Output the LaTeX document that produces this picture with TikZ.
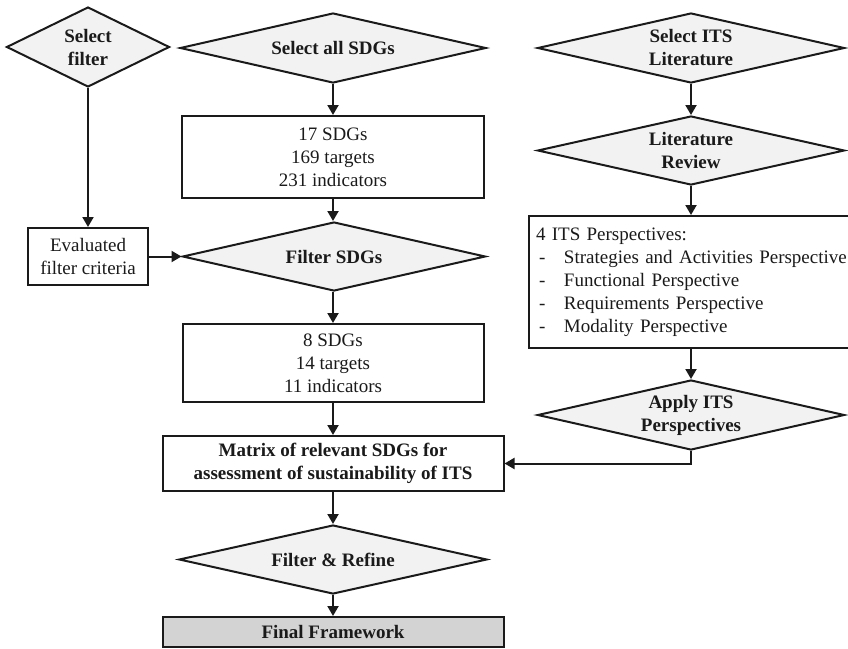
\documentclass[tikz,border=0pt]{standalone}
\usepackage{fontspec}
\setmainfont{Liberation Serif}
\usetikzlibrary{shapes.geometric}
\usetikzlibrary{arrows.meta}
\definecolor{dfill}{RGB}{242,242,242}
\definecolor{ffill}{RGB}{211,211,211}
\definecolor{ink}{RGB}{26,26,26}

\begin{document}
\begin{tikzpicture}[x=1pt,y=-1pt,line width=2pt,draw=ink,
	decide/.style={diamond,draw=ink,fill=dfill,aspect=4,font=\fontsize{19}{23}\selectfont\bfseries},
	box/.style={rectangle,draw=ink,fill=white},
	flow/.style={-{Triangle[length=10pt 0 0,width=11pt 0 0]}}]
			\tikzstyle{every node}+=[inner sep=0pt,align=center,text=ink,font=\fontsize{19}{23}\selectfont]
			\useasboundingbox (0,0) rectangle (848,648);
			\clip (0,0) rectangle (848,648);
			\node [decide,aspect=2,minimum width=163pt,minimum height=80pt] (selfilter) at (88,47) {Select\\filter};
			\node [decide,minimum width=306pt,minimum height=70pt] (selall) at (333,48) {Select all SDGs};
			\node [box,minimum width=302pt,minimum height=82pt] (sdg17) at (333,157) {17 SDGs\\169 targets\\231 indicators};
			\node [box,minimum width=120pt,minimum height=57pt] (evalc) at (88,256.5) {Evaluated\\filter criteria};
			\node [decide,minimum width=303pt,minimum height=69pt] (filtsdg) at (334,256.5) {Filter SDGs};
			\node [box,minimum width=301pt,minimum height=78pt] (sdg8) at (333,363) {8 SDGs\\14 targets\\11 indicators};
			\node [box,font=\fontsize{19}{23}\selectfont\bfseries,minimum width=341pt,minimum height=55pt] (matrix) at (333,463.5) {Matrix of relevant SDGs for\\assessment of sustainability of ITS};
			\node [decide,minimum width=308pt,minimum height=69pt] (refine) at (333,559.5) {Filter \& Refine};
			\node [box,fill=ffill,font=\fontsize{19}{23}\selectfont\bfseries,minimum width=341pt,minimum height=30pt] (final) at (333,632) {Final Framework};
			\node [decide,minimum width=307pt,minimum height=70pt] (sellit) at (691,48) {Select ITS\\Literature};
			\node [decide,minimum width=307pt,minimum height=69pt] (litrev) at (691,150.5) {Literature\\Review};
			\node [box,anchor=west,align=left,text width=318pt,inner xsep=7pt,minimum height=132pt] (persp) at (528,282) {4 ITS Perspectives:\\
				\hspace*{3pt}\makebox[25pt][l]{-}Strategies and Activities Perspective\\
				\hspace*{3pt}\makebox[25pt][l]{-}Functional Perspective\\
				\hspace*{3pt}\makebox[25pt][l]{-}Requirements Perspective\\
				\hspace*{3pt}\makebox[25pt][l]{-}Modality Perspective};
			\node [decide,minimum width=307pt,minimum height=70pt] (apply) at (691,415) {Apply ITS\\Perspectives};
			\draw [flow] (selfilter.south) -- (evalc.north);
			\draw [flow] (selall.south) -- (sdg17.north);
			\draw [flow] (sdg17.south) -- (sdg17.south |- filtsdg.north);
			\draw [flow] (evalc.east) -- (filtsdg.west);
			\draw [flow] (sdg8.north |- filtsdg.south) -- (sdg8.north);
			\draw [flow] (sdg8.south) -- (matrix.north);
			\draw [flow] (matrix.south) -- (refine.north);
			\draw [flow] (refine.south) -- (final.north);
			\draw [flow] (sellit.south) -- (litrev.north);
			\draw [flow] (litrev.south) -- (litrev.south |- persp.north);
			\draw [flow] (apply.north |- persp.south) -- (apply.north);
			\draw [flow] (apply.south) |- (matrix.east);
\end{tikzpicture}
\end{document}
